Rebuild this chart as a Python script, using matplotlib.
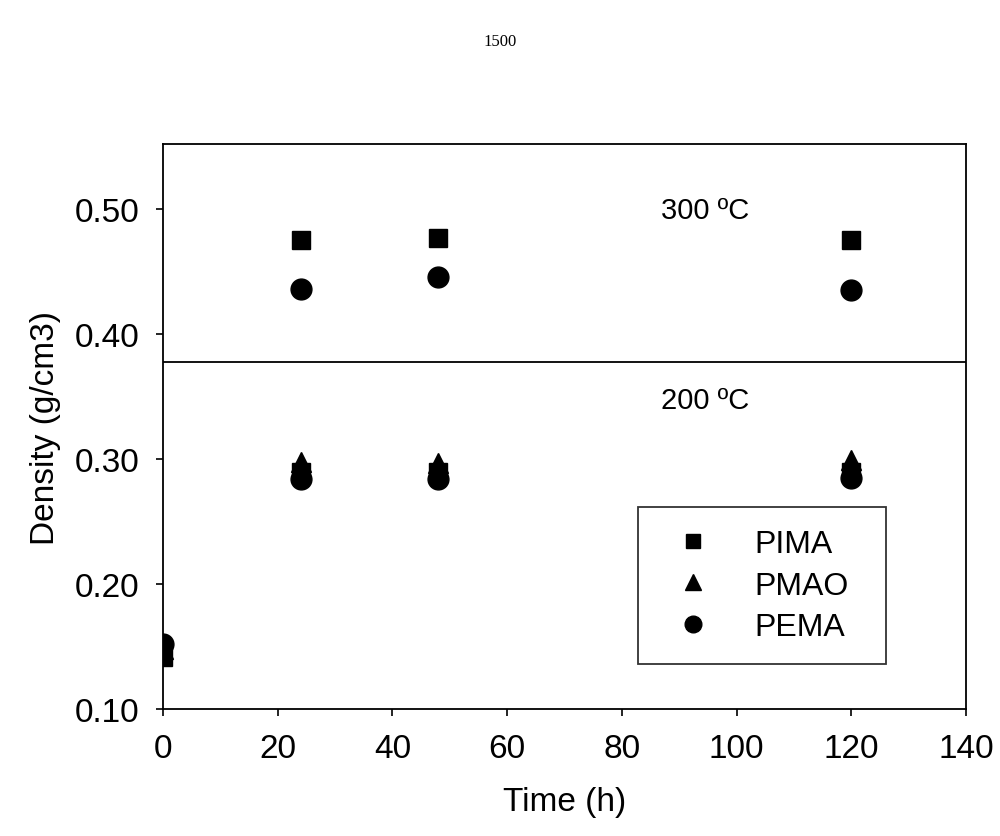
import matplotlib
matplotlib.use('Agg')
import matplotlib.pyplot as plt
from matplotlib.lines import Line2D

plt.rcParams['font.family'] = ['Liberation Sans', 'DejaVu Sans']

# ── data ────────────────────────────────────────
time_300 = [24, 48, 120]
pima_300 = [0.475, 0.477, 0.475]
pema_300 = [0.436, 0.446, 0.435]

time_200 = [0, 24, 48, 120]
pima_200 = [0.142, 0.290, 0.290, 0.290]
pmao_200 = [0.148, 0.298, 0.297, 0.299]
pema_200 = [0.152, 0.284, 0.284, 0.285]

divider = 0.378
x_ticks = [0, 20, 40, 60, 80, 100, 120, 140]
y_ticks = [0.10, 0.20, 0.30, 0.40, 0.50]

# ── figure ──────────────────────────────────────
fig = plt.figure(figsize=(10, 8.37), dpi=100)
ax = fig.add_axes([0.163, 0.1517, 0.803, 0.675])

ms_sq, ms_tri, ms_ci = 13, 14, 15
ax.plot(time_200, pmao_200, '^', color='black', ms=ms_tri, zorder=3)
ax.plot(time_200, pima_200, 's', color='black', ms=ms_sq, zorder=3)
ax.plot(time_200, pema_200, 'o', color='black', ms=ms_ci, zorder=4)
ax.plot(time_300, pima_300, 's', color='black', ms=ms_sq, zorder=3)
ax.plot(time_300, pema_300, 'o', color='black', ms=ms_ci, zorder=3)

ax.axhline(divider, color='black', lw=1.3)
ax.text(94.5, 0.499, '300 ºC', fontsize=21, ha='center', va='center')
ax.text(94.5, 0.347, '200 ºC', fontsize=21, ha='center', va='center')

ax.set_xlim(0, 140)
ax.set_ylim(0.10, 0.552)
ax.set_xticks(x_ticks)
ax.set_yticks(y_ticks)
ax.set_yticklabels([f'{v:.2f}' for v in y_ticks])
ax.tick_params(direction='out', length=5, width=1.2, labelsize=24, pad=12)
for s in ax.spines.values():
    s.set_linewidth(1.3)

ax.set_xlabel('Time (h)', fontsize=24, labelpad=16)
ax.set_ylabel('Density (g/cm3)', fontsize=24, labelpad=10)

handles = [Line2D([], [], ls='', marker='s', color='black', ms=10),
           Line2D([], [], ls='', marker='^', color='black', ms=11),
           Line2D([], [], ls='', marker='o', color='black', ms=12)]
leg = ax.legend(handles, ['PIMA', 'PMAO', 'PEMA'], fontsize=23,
                loc='upper left', bbox_to_anchor=(0.591, 0.0, 0.309, 0.3575),
                mode='expand', frameon=True, fancybox=False, edgecolor='black',
                borderpad=0.7, handletextpad=0.85, labelspacing=0.35,
                borderaxespad=0, handlelength=2.1)
leg.get_frame().set_linewidth(1.3)

fig.text(0.5, 0.95, '1500', fontsize=12, family='Liberation Serif',
         ha='center', va='center')

fig.savefig('out.png', dpi=100)
